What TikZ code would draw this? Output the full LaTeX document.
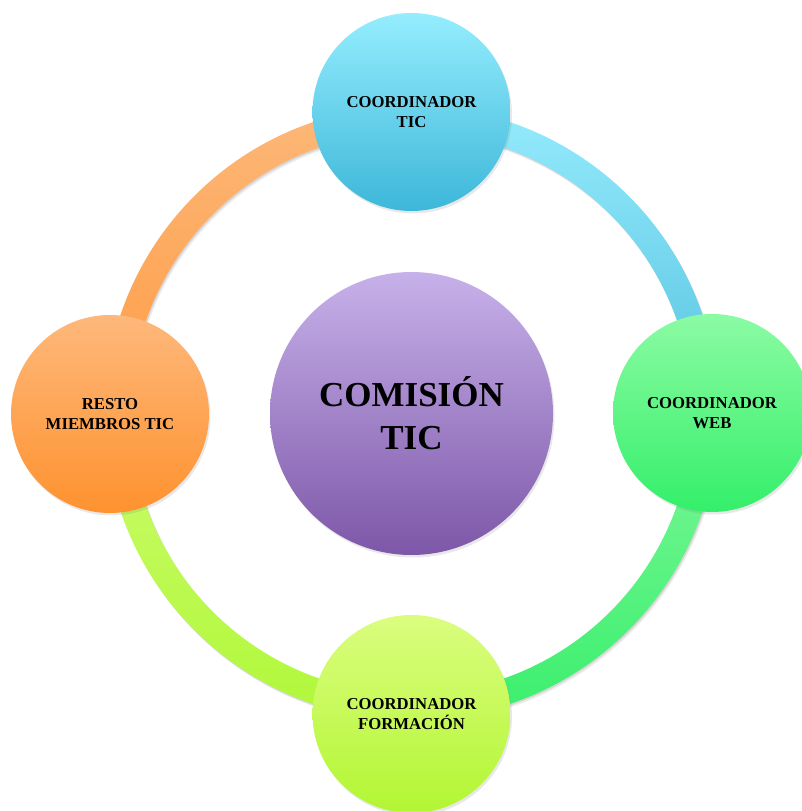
\documentclass[tikz,border=0pt]{standalone}
\usepackage{fontspec}
\setmainfont{Liberation Serif}
\usetikzlibrary{shadows}
\definecolor{tTop}{HTML}{95EDFE}\definecolor{tBot}{HTML}{3DB7D9}
\definecolor{rTop}{HTML}{8BFBA3}\definecolor{rBot}{HTML}{34EF6A}
\definecolor{bTop}{HTML}{DBFD7F}\definecolor{bBot}{HTML}{B2F633}
\definecolor{lTop}{HTML}{FEB87B}\definecolor{lBot}{HTML}{FE922F}
\definecolor{cTop}{HTML}{C7B1EA}\definecolor{cBot}{HTML}{7D57A8}
\definecolor{aTRt}{HTML}{95EBFC}\definecolor{aTRb}{HTML}{56C2E0}
\definecolor{aBRt}{HTML}{7DF79A}\definecolor{aBRb}{HTML}{3AEF6C}
\definecolor{aBLt}{HTML}{CCFB6C}\definecolor{aBLb}{HTML}{B0F83A}
\definecolor{aTLt}{HTML}{FDB878}\definecolor{aTLb}{HTML}{FE9B45}
\newcommand\ringsector[4]{%
  \fill[black,opacity=0.10] ([shift={(Oa)}]#1:307) arc[start angle=#1,end angle=#2,radius=307] -- ([shift={(Oa)}]#2:281) arc[start angle=#2,end angle=#1,radius=281] -- cycle;
  \fill[black,opacity=0.07] ([shift={(Ob)}]#1:307) arc[start angle=#1,end angle=#2,radius=307] -- ([shift={(Ob)}]#2:281) arc[start angle=#2,end angle=#1,radius=281] -- cycle;
  \path[top color=#3,bottom color=#4] ([shift={(O)}]#1:307) arc[start angle=#1,end angle=#2,radius=307] -- ([shift={(O)}]#2:281) arc[start angle=#2,end angle=#1,radius=281] -- cycle;
}
\begin{document}
\begin{tikzpicture}[x=1bp,y=1bp,
  bubble/.style={circle, inner sep=0pt, minimum size=198bp, align=center,
    font=\bfseries\fontsize{16.7bp}{20bp}\selectfont,
    drop shadow={opacity=0.18, shadow xshift=1.5bp, shadow yshift=-2.5bp}},
  hub/.style={circle, inner sep=0pt, minimum size=283bp, align=center,
    font=\bfseries\fontsize{35bp}{43bp}\selectfont,
    drop shadow={opacity=0.18, shadow xshift=1.5bp, shadow yshift=-2.5bp}}]
\useasboundingbox (0,0) rectangle (802,811);
\clip (0,0) rectangle (802,811);
\coordinate (O) at (411.5,398);
\coordinate (Oa) at (412.5,396.5);
\coordinate (Ob) at (413.5,395);
\ringsector{90}{0}{aTRt}{aTRb}
\ringsector{0}{-90}{aBRt}{aBRb}
\ringsector{270}{180}{aBLt}{aBLb}
\ringsector{180}{90}{aTLt}{aTLb}
\node[hub, top color=cTop, bottom color=cBot] (c) at (411.5,397.5) {COMISIÓN\\TIC};
\node[bubble, top color=tTop, bottom color=tBot] (t) at (411.5,699) {COORDINADOR\\TIC};
\node[bubble, top color=rTop, bottom color=rBot] (r) at (712,398) {COORDINADOR\\WEB};
\node[bubble, top color=bTop, bottom color=bBot] (b) at (411.5,97) {COORDINADOR\\FORMACIÓN};
\node[bubble, top color=lTop, bottom color=lBot] (l) at (110,397) {RESTO\\MIEMBROS TIC};
\end{tikzpicture}
\end{document}
